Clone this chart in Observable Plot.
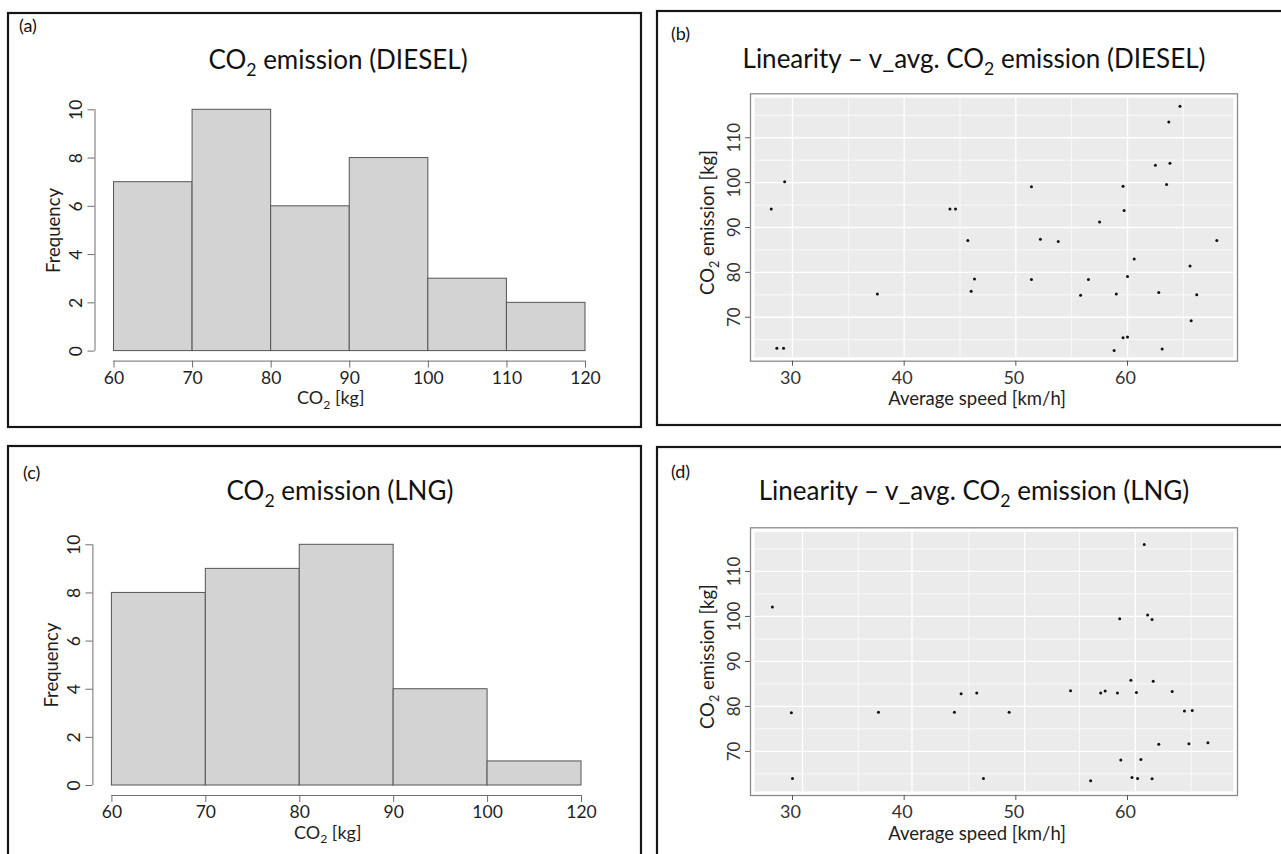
<!DOCTYPE html>
<html><head><meta charset="utf-8">
<script src="https://cdn.jsdelivr.net/npm/d3@7"></script>
<script src="https://cdn.jsdelivr.net/npm/@observablehq/plot@0.6"></script>
<style>
body{margin:0;background:#fff;font-family:Lato,sans-serif;}
#root{position:relative;width:1281px;height:854px;overflow:hidden;background:#fff;}
</style></head><body><div id="root"></div>
<script>
// ---------- data ----------
// histogram bin edges as labelled on the axis (bars are drawn equally wide, as in the picture)
const dieselEdges = [60, 70, 80, 90, 100, 110, 120];
const dieselCounts = [7, 10, 6, 8, 3, 2];
const lngEdges = [60, 70, 80, 90, 100, 120];
const lngCounts = [8, 9, 10, 4, 1];
const histYTicks = [0, 2, 4, 6, 8, 10];

const dieselSpeed = [28.1,29.3,28.6,29.2,37.6,44.1,44.6,45.7,46.3,46.0,64.7,63.7,62.5,63.8,51.4,59.6,63.5,59.7,57.5,52.2,53.8,68.0,60.6,65.6,51.4,56.5,60.0,55.8,59.0,62.8,66.2,65.7,59.6,60.0,58.8,63.1];
const dieselCO2   = [94.1,100.2,63.1,63.1,75.2,94.1,94.1,87.1,78.5,75.8,117.0,113.5,103.9,104.3,99.1,99.2,99.6,93.8,91.2,87.4,86.9,87.1,83.0,81.4,78.4,78.4,79.1,74.9,75.2,75.5,75.0,69.2,65.4,65.6,62.6,62.9];

const lngSpeed = [28.2,29.9,30.0,37.7,44.5,45.1,46.5,47.1,61.5,59.3,61.8,62.2,49.4,54.9,60.3,62.3,57.6,58.0,59.1,60.8,64.0,65.1,65.8,62.8,65.5,67.2,59.4,61.2,56.7,60.4,60.9,62.2];
const lngCO2   = [102.1,78.6,64.0,78.7,78.7,82.8,83.0,64.0,116.0,99.5,100.3,99.3,78.7,83.5,85.8,85.6,83.0,83.4,83.0,83.1,83.3,79.0,79.1,71.6,71.7,71.9,68.1,68.2,63.5,64.2,64.0,63.9];

const scatterXTicks = [30, 40, 50, 60];
const scatterYTicks = [70, 80, 90, 100, 110];
const scatterXDomain = [26.24, 69.85];
const dieselYDomain = [60.2, 119.8];
const lngYDomain = [60.2, 119.7];
const gridXMajorB = [30, 40, 50, 60];
const gridXMinorB = [35, 45, 55, 65];
const gridXMajorD = [30.9, 40.7, 50.8, 60.7];
const gridXMinorD = [35.9, 45.8, 55.7, 65.7];
const gridYMajor = [70, 80, 90, 100, 110];
const gridYMinor = [65, 75, 85, 95, 105, 115];

const titles = {
  a: "CO₂ emission (DIESEL)",
  b: "Linearity – v_avg. CO₂ emission (DIESEL)",
  c: "CO₂ emission (LNG)",
  d: "Linearity – v_avg. CO₂ emission (LNG)"
};

// ---------- helpers ----------
const root = document.getElementById("root");
const NS = "http://www.w3.org/2000/svg";

function richText(t, s, fs) {
  if (!s.includes("₂")) { t.textContent = s; return; }
  const [a, b] = s.split("₂");
  t.textContent = "";
  const t1 = document.createElementNS(NS, "tspan"); t1.textContent = a; t.appendChild(t1);
  const t2 = document.createElementNS(NS, "tspan"); t2.textContent = "2";
  t2.setAttribute("font-size", (fs * 0.68).toFixed(1)); t2.setAttribute("dy", (fs * 0.26).toFixed(1));
  t.appendChild(t2);
  const t3 = document.createElementNS(NS, "tspan"); t3.textContent = b;
  t3.setAttribute("dy", (-fs * 0.26).toFixed(1)); t.appendChild(t3);
}
function fixSubs(svg) {
  svg.querySelectorAll("text").forEach(t => {
    const s = t.textContent;
    if (s.includes("₂")) {
      const fs = parseFloat(getComputedStyle(t).fontSize) || 17;
      richText(t, s, fs);
    }
  });
}
function place(svg, left, top) {
  svg.style.position = "absolute";
  svg.style.left = left + "px";
  svg.style.top = top + "px";
  root.appendChild(svg);
  fixSubs(svg);
}

const axisColor = "#6e6e6e";
const textColor = "#1e1e1e";

function hist({edges, counts, left, top, width, height, mL, mR, mT, mB}) {
  const idx = d3.range(counts.length);
  const edgeIdx = d3.range(edges.length);
  const x0 = 0, xN = counts.length;
  const y0 = histYTicks[0], yN = histYTicks[histYTicks.length - 1];
  const svg = Plot.plot({
    width, height, marginLeft: mL, marginRight: mR, marginTop: mT, marginBottom: mB,
    x: {domain: [x0, xN], axis: null},
    y: {domain: [y0, yN], axis: null},
    style: {fontFamily: "Lato, sans-serif", background: "transparent", overflow: "visible"},
    marks: [
      Plot.rect(idx, {x1: i => i, x2: i => i + 1, y1: y0, y2: i => counts[i],
        fill: "#d3d3d3", stroke: "#555", strokeWidth: 1}),
      Plot.ruleX([x0], {y1: y0, y2: yN, dx: -19, stroke: axisColor}),
      Plot.ruleY(histYTicks, {x1: x0, x2: x0, insetLeft: -7, dx: -19, stroke: axisColor}),
      Plot.text(histYTicks, {x: x0, y: d => d, text: d => String(d), rotate: -90, dx: -38,
        fontSize: 17.5, fill: textColor}),
      Plot.ruleY([y0], {x1: x0, x2: xN, dy: 10, stroke: axisColor}),
      Plot.ruleX(edgeIdx, {y1: y0, y2: y0, insetBottom: -7, dy: 10, stroke: axisColor}),
      Plot.text(edgeIdx, {x: i => i, y: y0, dy: 27, text: i => String(edges[i]), fontSize: 17.5, fill: textColor}),
      Plot.text(["CO₂ [kg]"], {frameAnchor: "bottom", dy: 53, dx: -19, fontSize: 18, fill: textColor}),
      Plot.text(["Frequency"], {frameAnchor: "left", textAnchor: "middle", rotate: -90, dx: -60,
        fontSize: 18.5, fill: textColor})
    ]
  });
  place(svg, left, top);
}

function scatter({speed, co2, yDomain, gxMajor, gxMinor, left, top, width, height, mB}) {
  const idx = d3.range(speed.length);
  const xd0 = scatterXDomain[0], yd0 = yDomain[0];
  const svg = Plot.plot({
    width, height, marginLeft: 93, marginRight: 44, marginTop: 80.3, marginBottom: mB,
    x: {domain: scatterXDomain, axis: null},
    y: {domain: yDomain, axis: null},
    style: {fontFamily: "Lato, sans-serif", background: "transparent", overflow: "visible"},
    marks: [
      Plot.frame({fill: "#ebebeb", inset: 4}),
      Plot.ruleX(gxMinor, {stroke: "#fff", strokeWidth: 0.7, insetTop: 4, insetBottom: 4}),
      Plot.ruleY(gridYMinor, {stroke: "#fff", strokeWidth: 0.7, insetLeft: 4, insetRight: 4}),
      Plot.ruleX(gxMajor, {stroke: "#fff", strokeWidth: 1.3, insetTop: 4, insetBottom: 4}),
      Plot.ruleY(gridYMajor, {stroke: "#fff", strokeWidth: 1.3, insetLeft: 4, insetRight: 4}),
      Plot.frame({stroke: "#8a8a8a", strokeWidth: 1.3}),
      Plot.dot(idx, {x: i => speed[i], y: i => co2[i], r: 1.5, fill: "#111"}),
      Plot.ruleY(scatterYTicks, {x1: xd0, x2: xd0, insetLeft: -5, stroke: "#555"}),
      Plot.text(scatterYTicks, {x: xd0, y: d => d, text: d => String(d), rotate: -90, dx: -16,
        fontSize: 17, fill: "#333"}),
      Plot.ruleX(scatterXTicks, {y1: yd0, y2: yd0, insetBottom: -5, stroke: "#555"}),
      Plot.text(scatterXTicks, {x: d => d, y: yd0, dy: 17, dx: -2, text: d => String(d), fontSize: 18, fill: "#333"}),
      Plot.text(["Average speed [km/h]"], {frameAnchor: "bottom", dy: 44, dx: -17, fontSize: 18.5, fill: textColor}),
      Plot.text(["CO₂ emission [kg]"], {frameAnchor: "left", textAnchor: "middle", rotate: -90, dx: -42, dy: -5,
        fontSize: 18.5, fill: textColor})
    ]
  });
  place(svg, left, top);
}

// ---------- charts ----------
hist({edges: dieselEdges, counts: dieselCounts,
  left: 7, top: 13, width: 634, height: 415, mL: 106.5, mR: 56, mT: 96.3, mB: 77.4});
hist({edges: lngEdges, counts: lngCounts,
  left: 7, top: 445, width: 634, height: 409, mL: 104.4, mR: 60, mT: 99.3, mB: 69});
scatter({speed: dieselSpeed, co2: dieselCO2, yDomain: dieselYDomain, gxMajor: gridXMajorB, gxMinor: gridXMinorB,
  left: 657, top: 13, width: 624, height: 412, mB: 64.3});
scatter({speed: lngSpeed, co2: lngCO2, yDomain: lngYDomain, gxMajor: gridXMajorD, gxMinor: gridXMinorD,
  left: 657, top: 447, width: 624, height: 407, mB: 59});

// ---------- overlay: panel frames, titles, tags ----------
const ov = d3.select(root).append("svg")
  .attr("width", 1281).attr("height", 854)
  .style("position", "absolute").style("left", 0).style("top", 0)
  .style("pointer-events", "none")
  .attr("font-family", "Lato, sans-serif");

const panels = [
  {x1: 8, y1: 13, x2: 641, y2: 427},
  {x1: 657, y1: 11, x2: 1292, y2: 425},
  {x1: 8, y1: 446, x2: 641, y2: 872},
  {x1: 657, y1: 447, x2: 1292, y2: 872}
];
ov.selectAll("rect.panel").data(panels).join("rect")
  .attr("x", d => d.x1).attr("y", d => d.y1)
  .attr("width", d => d.x2 - d.x1).attr("height", d => d.y2 - d.y1)
  .attr("fill", "none").attr("stroke", "#161616").attr("stroke-width", 2.2);

const titleSpecs = [
  {key: "a", x: 338, y: 69}, {key: "b", x: 974, y: 68},
  {key: "c", x: 340, y: 500}, {key: "d", x: 974, y: 500}
];
titleSpecs.forEach(s => {
  const t = ov.append("text").attr("x", s.x).attr("y", s.y)
    .attr("text-anchor", "middle").attr("font-size", 26).attr("fill", "#111");
  richText(t.node(), titles[s.key], 26);
});
const tags = [
  {t: "(a)", x: 19, y: 32}, {t: "(b)", x: 671, y: 40},
  {t: "(c)", x: 23, y: 479}, {t: "(d)", x: 671, y: 478}
];
tags.forEach(s => ov.append("text").attr("x", s.x).attr("y", s.y)
  .attr("font-size", 18).attr("fill", "#111").text(s.t));
</script></body></html>
